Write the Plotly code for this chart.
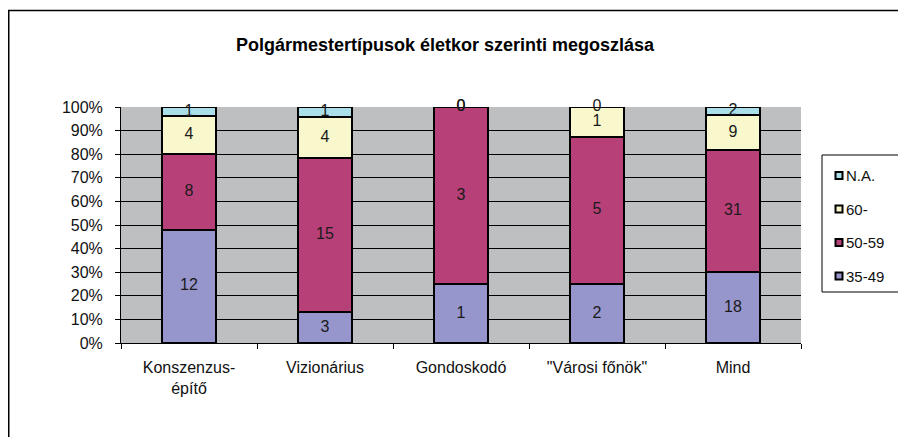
import plotly.graph_objects as go

categories = ["Konszenzus-<br>építő", "Vizionárius", "Gondoskodó", "\"Városi főnök\"", "Mind"]
series_names = ["35-49", "50-59", "60-", "N.A."]
v_35_49 = [12, 3, 1, 2, 18]
v_50_59 = [8, 15, 3, 5, 31]
v_60 = [4, 4, 0, 1, 9]
v_na = [1, 1, 0, 0, 2]
colors = ["#9696CC", "#B84078", "#F8F8CC", "#AADEE8"]
y_ticks = [0, 10, 20, 30, 40, 50, 60, 70, 80, 90, 100]

FONT = "Liberation Sans, Arial, sans-serif"
series = [v_35_49, v_50_59, v_60, v_na]
totals = [sum(s[i] for s in series) for i in range(len(categories))]

fig = go.Figure()
for name, vals, col in zip(series_names, series, colors):
    fig.add_trace(go.Bar(
        x=categories, y=vals, name=name,
        marker=dict(color=col, line=dict(color="black", width=2)),
    ))

# labels at centre of each segment (percent)
lx, ly, lt = [], [], []
for i, c in enumerate(categories):
    cum = 0.0
    for vals in series:
        p = vals[i] / totals[i] * 100
        lx.append(c)
        ly.append(cum + p / 2)
        lt.append(str(vals[i]))
        cum += p
fig.add_trace(go.Scatter(
    x=lx, y=ly, text=lt, mode="text", showlegend=False, hoverinfo="skip",
    textfont=dict(family=FONT, size=16, color="#1a1a1a"), cliponaxis=False,
))

# page has an 8px body margin: work in figure coords = page coords - 8
OFF = 8
W, H = 906 - OFF, 437 - OFF
L, T = 121 - OFF, 107 - OFF
pw, ph = 680, 236
R, B = W - L - pw, H - T - ph

def px(x):
    return (x - OFF - L) / pw

def py(y):
    return (T + ph - (y - OFF)) / ph

shapes = [dict(type="rect", xref="paper", yref="paper",
               x0=(0.75 - L) / pw, x1=px(920), y0=py(450), y1=py(10.5),
               line=dict(color="black", width=1.5), layer="below")]
annotations = []

# legend box (manual, Excel style)
shapes.append(dict(type="rect", xref="paper", yref="paper",
                   x0=px(822), x1=px(899), y0=py(292), y1=py(155),
                   line=dict(color="black", width=1), fillcolor="white", layer="above"))
legend_y = [276, 242.5, 209, 175.5]
for name, col, yy in zip(series_names, colors, legend_y):
    shapes.append(dict(type="rect", xref="paper", yref="paper",
                       x0=px(835.5), x1=px(842.5), y0=py(yy + 3.5), y1=py(yy - 3.5),
                       line=dict(color="black", width=2), fillcolor=col, layer="above"))
    annotations.append(dict(xref="paper", yref="paper", x=px(844), y=py(yy),
                            xanchor="left", yanchor="middle", showarrow=False,
                            text=name, font=dict(family=FONT, size=15, color="#111111")))

fig.update_layout(
    width=W, height=H,
    margin=dict(l=L, r=R, t=T, b=B),
    barmode="stack", barnorm="percent", bargap=0.6,
    paper_bgcolor="white", plot_bgcolor="#BEBFC1",
    font=dict(family=FONT, size=16, color="#111111"),
    title=dict(text="<b>Polgármestertípusok életkor szerinti megoszlása</b>",
               x=(445 - OFF) / W, xanchor="center", y=1 - (45 - OFF) / H, yanchor="middle",
               font=dict(size=18, color="black")),
    showlegend=False,
    xaxis=dict(
        showline=True, linecolor="black", linewidth=1,
        ticks="outside", ticklen=5, tickcolor="black", tickson="boundaries",
        showgrid=False, tickfont=dict(size=16), ticklabelstandoff=10,
    ),
    yaxis=dict(
        range=[0, 100], tickvals=y_ticks, ticktext=[f"{v}%" for v in y_ticks],
        showline=True, linecolor="black", linewidth=1,
        ticks="outside", ticklen=5, tickcolor="black",
        showgrid=True, gridcolor="black", gridwidth=1,
        tickfont=dict(size=16), zeroline=False, ticklabelstandoff=9,
    ),
    shapes=shapes,
    annotations=annotations,
)

fig.write_html("out.html")
